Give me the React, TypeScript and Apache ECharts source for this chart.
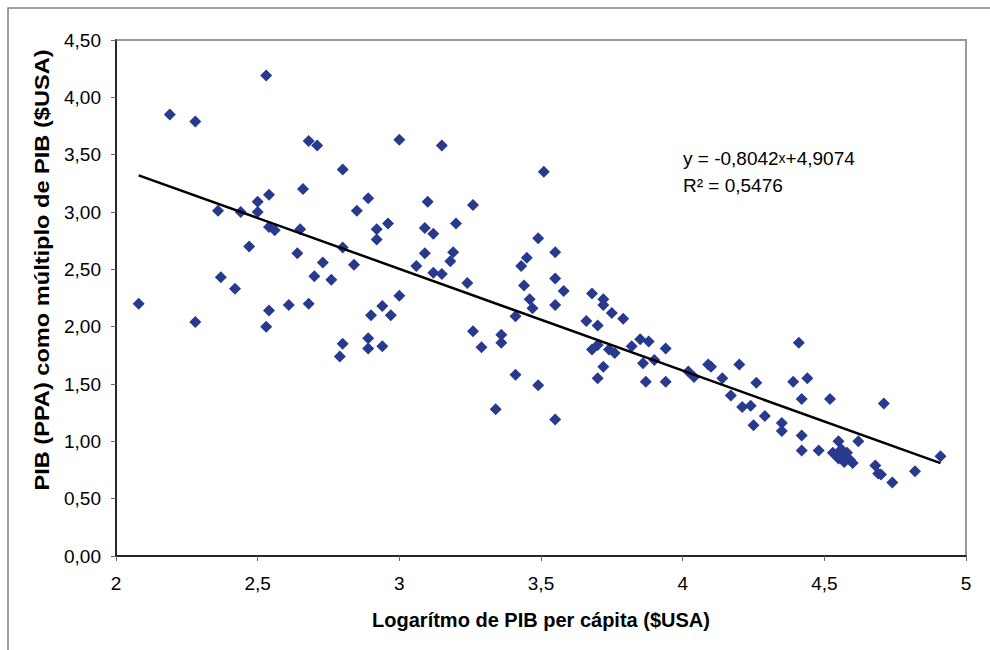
import React, { useEffect, useRef } from "react";
import * as echarts from "echarts";

const xValues = [
  2.08, 2.19, 2.28, 2.28, 2.36, 2.37, 2.42, 2.44, 2.47, 2.5, 2.5, 2.53, 2.54, 2.54, 2.56, 2.54, 2.53,
  2.61, 2.64, 2.66, 2.65, 2.68, 2.68, 2.71, 2.7, 2.73, 2.76, 2.8, 2.8, 2.79, 2.8, 2.84, 2.85, 2.89,
  2.89, 2.89, 2.9, 2.92, 2.92, 2.94, 2.94, 2.96, 2.97, 3.0, 3.0, 3.06, 3.09, 3.09, 3.1, 3.12, 3.12,
  3.15, 3.15, 3.18, 3.19, 3.2, 3.24, 3.26, 3.26, 3.29, 3.34, 3.36, 3.36, 3.41, 3.41, 3.43, 3.45,
  3.44, 3.46, 3.47, 3.49, 3.49, 3.51, 3.55, 3.55, 3.55, 3.55, 3.58, 3.66, 3.68, 3.68, 3.7, 3.7, 3.7,
  3.72, 3.72, 3.72, 3.74, 3.75, 3.76, 3.79, 3.82, 3.85, 3.87, 3.86, 3.88, 3.9, 3.94, 3.94, 4.02,
  4.04, 4.09, 4.1, 4.14, 4.17, 4.2, 4.21, 4.24, 4.25, 4.26, 4.29, 4.35, 4.35, 4.39, 4.41, 4.42,
  4.44, 4.42, 4.42, 4.48, 4.52, 4.53, 4.55, 4.54, 4.55, 4.56, 4.56, 4.57, 4.58, 4.58, 4.59, 4.6,
  4.62, 4.68, 4.69, 4.7, 4.71, 4.74, 4.82, 4.91,
];
const yValues = [
  2.2, 3.85, 3.79, 2.04, 3.01, 2.43, 2.33, 3.0, 2.7, 3.09, 3.0, 4.19, 3.15, 2.87, 2.84, 2.14, 2.0,
  2.19, 2.64, 3.2, 2.85, 2.2, 3.62, 3.58, 2.44, 2.56, 2.41, 3.37, 2.69, 1.74, 1.85, 2.54, 3.01, 3.12,
  1.9, 1.81, 2.1, 2.85, 2.76, 2.18, 1.83, 2.9, 2.1, 2.27, 3.63, 2.53, 2.64, 2.86, 3.09, 2.47, 2.81,
  3.58, 2.46, 2.57, 2.65, 2.9, 2.38, 3.06, 1.96, 1.82, 1.28, 1.93, 1.86, 2.09, 1.58, 2.53, 2.6,
  2.36, 2.24, 2.16, 1.49, 2.77, 3.35, 2.65, 2.42, 2.19, 1.19, 2.31, 2.05, 2.29, 1.8, 1.84, 2.01, 1.55,
  1.65, 2.24, 2.19, 1.8, 2.12, 1.77, 2.07, 1.83, 1.89, 1.52, 1.68, 1.87, 1.71, 1.52, 1.81, 1.61,
  1.56, 1.67, 1.65, 1.55, 1.4, 1.67, 1.3, 1.31, 1.14, 1.51, 1.22, 1.16, 1.09, 1.52, 1.86, 1.37,
  1.55, 1.05, 0.92, 0.92, 1.37, 0.9, 1.0, 0.88, 0.85, 0.87, 0.93, 0.82, 0.9, 0.86, 0.84, 0.81,
  1.0, 0.79, 0.72, 0.71, 1.33, 0.64, 0.74, 0.87,
];
const trendX = [2.08, 4.91];
const trendY = [3.32, 0.81];

const xTitle = "Logarítmo de PIB per cápita ($USA)";
const yTitle = "PIB (PPA) como múltiplo de PIB ($USA)";
const eqLine1a = "y = -0,8042";
const eqLine1x = "x";
const eqLine1b = "+4,9074";
const eqLine2 = "R² = 0,5476";

const FONT = '"Liberation Sans", Arial, sans-serif';

export default function App() {
  const ref = useRef<HTMLDivElement>(null);
  useEffect(() => {
    if (!ref.current) return;
    const chart = echarts.init(ref.current, null, { renderer: "svg" });
    const points = xValues.map((x, i) => [x, yValues[i]]);
    const trend = trendX.map((x, i) => [x, trendY[i]]);
    chart.setOption({
      animation: false,
      backgroundColor: "#ffffff",
      textStyle: { fontFamily: FONT },
      grid: {
        left: 116,
        right: 24,
        top: 40,
        bottom: 94,
        show: true,
        borderColor: "#9a9a9a",
        borderWidth: 2,
        backgroundColor: "transparent",
      },
      xAxis: {
        type: "value",
        min: 2,
        max: 5,
        interval: 0.5,
        axisLine: { show: true, onZero: false, lineStyle: { color: "#000", width: 1.5 } },
        axisTick: { show: true, length: 5, lineStyle: { color: "#666" } },
        splitLine: { show: false },
        axisLabel: {
          margin: 18,
          fontSize: 19,
          color: "#000",
          fontFamily: FONT,
          formatter: (v: number) => String(v).replace(".", ","),
        },
      },
      yAxis: {
        type: "value",
        min: 0,
        max: 4.5,
        interval: 0.5,
        axisLine: { show: true, onZero: false, lineStyle: { color: "#000", width: 1.5 } },
        axisTick: { show: true, length: 5, lineStyle: { color: "#666" } },
        splitLine: { show: false },
        axisLabel: {
          margin: 15,
          fontSize: 19,
          color: "#000",
          fontFamily: FONT,
          formatter: (v: number) => v.toFixed(2).replace(".", ","),
        },
      },
      series: [
        {
          type: "scatter",
          data: points,
          symbol: "diamond",
          symbolSize: 12,
          itemStyle: { color: "#283a8e", opacity: 1 },
          z: 3,
        },
        {
          type: "line",
          data: trend,
          symbol: "none",
          lineStyle: { color: "#000", width: 2.5 },
          z: 4,
        },
      ],
      graphic: [
        {
          type: "rect",
          shape: { x: 8, y: 8, width: 1100, height: 800 },
          style: { fill: "none", stroke: "#808080", lineWidth: 1.5 },
          silent: true,
        },
        {
          type: "text",
          x: 541,
          y: 620,
          style: {
            text: xTitle,
            font: `bold 20px ${FONT}`,
            fill: "#000",
            align: "center",
            verticalAlign: "middle",
          },
        },
        {
          type: "text",
          x: 42,
          y: 270,
          rotation: Math.PI / 2,
          scaleX: 1.18,
          style: {
            text: yTitle,
            font: `bold 20px ${FONT}`,
            fill: "#000",
            align: "center",
            verticalAlign: "middle",
          },
        },
        {
          type: "text",
          x: 683,
          y: 158,
          style: {
            text: `{a|${eqLine1a}}{s|${eqLine1x}}{a|${eqLine1b}}`,
            verticalAlign: "middle",
            align: "left",
            rich: {
              a: { fontSize: 19, fontFamily: FONT, fill: "#000", color: "#000" },
              s: { fontSize: 14, fontFamily: FONT, fill: "#000", color: "#000" },
            },
          },
        },
        {
          type: "text",
          x: 683,
          y: 185,
          style: {
            text: eqLine2,
            font: `19px ${FONT}`,
            fill: "#000",
            align: "left",
            verticalAlign: "middle",
          },
        },
      ],
    });
    return () => chart.dispose();
  }, []);
  return (
    <div
      ref={ref}
      style={{ position: "absolute", left: 0, top: 0, width: 990, height: 650 }}
    />
  );
}
